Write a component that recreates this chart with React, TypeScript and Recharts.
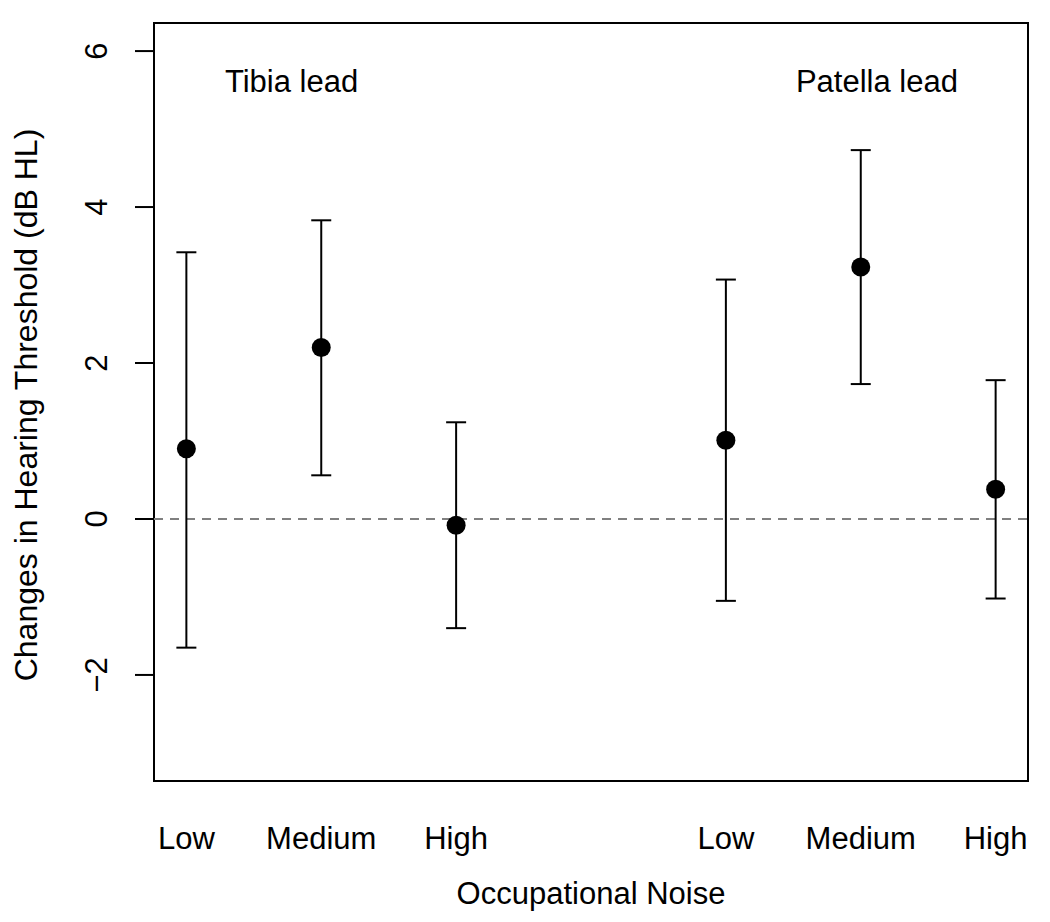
import React from 'react';
import {
  ComposedChart,
  XAxis,
  YAxis,
  Scatter,
  ErrorBar,
  ReferenceLine,
  ReferenceArea,
  ReferenceDot,
  Label,
} from 'recharts';

const FONT = '"Liberation Sans", Arial, Helvetica, sans-serif';

// categories and positions
const categories = ['Low', 'Medium', 'High'];
const tibiaX = [1, 2, 3];
const patellaX = [5, 6, 7];

// Tibia lead: estimate and 95% CI
const tibiaEst = [0.9, 2.2, -0.08];
const tibiaLower = [-1.65, 0.56, -1.4];
const tibiaUpper = [3.42, 3.83, 1.24];

// Patella lead: estimate and 95% CI
const patellaEst = [1.01, 3.23, 0.38];
const patellaLower = [-1.05, 1.73, -1.02];
const patellaUpper = [3.07, 4.73, 1.78];

// axes
const xTicks = [...tibiaX, ...patellaX];
const xTickLabels = [...categories, ...categories];
const yTicks = [-2, 0, 2, 4, 6];
const xDomain: [number, number] = [0.76, 7.24];
const yDomain: [number, number] = [-3.36, 6.36];

// panel annotations
const panelLabels = ['Tibia lead', 'Patella lead'];
const panelLabelX = [1.78, 6.12];
const panelLabelY = 5.62;

const build = (xs: number[], est: number[], lo: number[], hi: number[]) =>
  xs.map((x, i) => ({ x, y: est[i], err: [est[i] - lo[i], hi[i] - est[i]] }));

const tibiaData = build(tibiaX, tibiaEst, tibiaLower, tibiaUpper);
const patellaData = build(patellaX, patellaEst, patellaLower, patellaUpper);

const Dot = (p: any) => <circle cx={p.cx} cy={p.cy} r={9.5} fill="#000" />;

const XTick = (p: any) => {
  const idx = xTicks.indexOf(p.payload.value);
  return (
    <text
      x={p.x}
      y={p.y + 57}
      textAnchor="middle"
      dominantBaseline="central"
      fontSize={31}
      fontFamily={FONT}
      fill="#000"
    >
      {idx >= 0 ? xTickLabels[idx] : ''}
    </text>
  );
};

const YTick = (p: any) => {
  const cx = p.x - 36;
  return (
    <text
      x={cx}
      y={p.y}
      transform={`rotate(-90, ${cx}, ${p.y})`}
      textAnchor="middle"
      dominantBaseline="central"
      fontSize={31}
      fontFamily={FONT}
      fill="#000"
    >
      {p.payload.value < 0 ? `\u2212${Math.abs(p.payload.value)}` : p.payload.value}
    </text>
  );
};

const YTitle = (props: any) => {
  const vb = props.viewBox;
  const cx = vb.x + 18;
  const cy = vb.y + vb.height / 2 + 3;
  return (
    <text
      x={cx}
      y={cy}
      transform={`rotate(-90, ${cx}, ${cy})`}
      textAnchor="middle"
      dominantBaseline="central"
      fontSize={32}
      fontFamily={FONT}
      fill="#000"
    >
      Changes in Hearing Threshold (dB HL)
    </text>
  );
};

const XTitle = (props: any) => {
  const vb = props.viewBox;
  const cx = vb.x + vb.width / 2;
  const cy = vb.y + 112;
  return (
    <text
      x={cx}
      y={cy}
      textAnchor="middle"
      dominantBaseline="central"
      fontSize={31}
      fontFamily={FONT}
      fill="#000"
    >
      Occupational Noise
    </text>
  );
};

export default function App() {
  return (
    <div style={{ width: 1042, height: 914, background: '#fff' }}>
      <ComposedChart
        width={1042}
        height={914}
        margin={{ top: 15, right: 22, bottom: 0, left: 0 }}
      >
        <XAxis
          type="number"
          dataKey="x"
          domain={xDomain}
          ticks={xTicks}
          allowDataOverflow
          axisLine={false}
          tickLine={false}
          tickSize={0}
          tickMargin={0}
          height={141}
          tick={<XTick />}
          interval={0}
        >
          <Label content={<XTitle />} />
        </XAxis>
        <YAxis
          type="number"
          dataKey="y"
          domain={yDomain}
          ticks={yTicks}
          allowDataOverflow
          axisLine={false}
          tickLine={{ stroke: '#000', strokeWidth: 2 }}
          tickSize={19}
          width={146}
          tick={<YTick />}
          interval={0}
        >
          <Label content={<YTitle />} />
        </YAxis>
        <ReferenceLine
          y={0}
          stroke="#808080"
          strokeWidth={2}
          strokeDasharray="9 7"
        />
        <ReferenceArea
          x1={xDomain[0]}
          x2={xDomain[1]}
          y1={yDomain[0]}
          y2={yDomain[1]}
          fill="none"
          fillOpacity={0}
          stroke="#000"
          strokeWidth={2}
          ifOverflow="visible"
        />
        {panelLabels.map((t, i) => (
          <ReferenceDot
            key={t}
            x={panelLabelX[i]}
            y={panelLabelY}
            r={0}
            fill="none"
            stroke="none"
            label={{ value: t, position: 'center', fontSize: 31, fill: '#000', fontFamily: FONT }}
          />
        ))}
        <Scatter data={tibiaData} dataKey="y" shape={<Dot />} isAnimationActive={false}>
          <ErrorBar dataKey="err" direction="y" width={10} stroke="#000" strokeWidth={2} />
        </Scatter>
        <Scatter data={patellaData} dataKey="y" shape={<Dot />} isAnimationActive={false}>
          <ErrorBar dataKey="err" direction="y" width={10} stroke="#000" strokeWidth={2} />
        </Scatter>
      </ComposedChart>
    </div>
  );
}
